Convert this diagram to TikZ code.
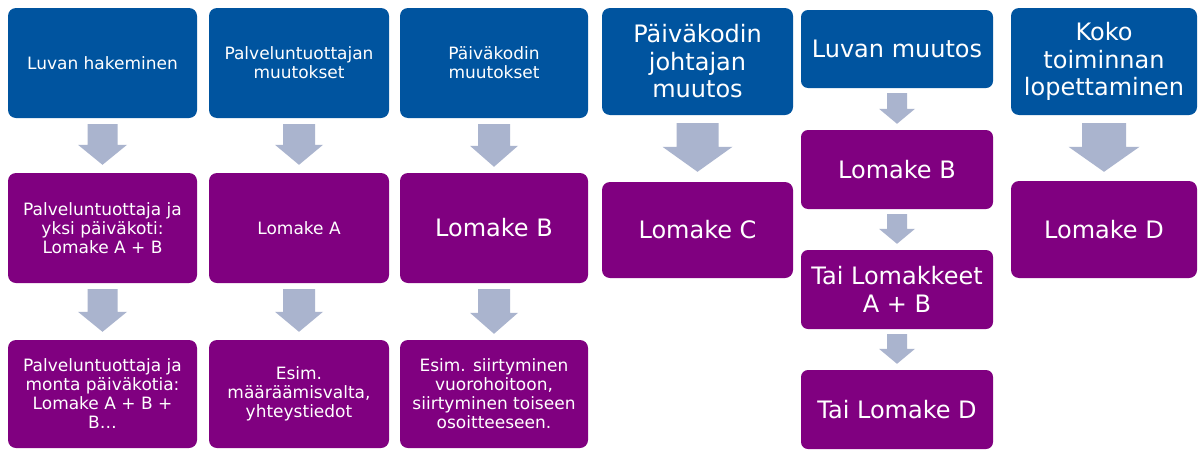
\documentclass[tikz,border=0pt]{standalone}
\usepackage{fontspec}
\setmainfont{DejaVu Sans}
\usetikzlibrary{calc}
\definecolor{boxblue}{RGB}{0,84,159}
\definecolor{boxpurple}{RGB}{128,0,128}
\definecolor{arrowgray}{RGB}{170,180,206}
\tikzset{
  basebox/.style={rectangle, rounded corners=8pt, inner sep=2pt, align=center, text=white},
  bluebox/.style={basebox, fill=boxblue},
  purplebox/.style={basebox, fill=boxpurple},
  small/.style={font=\fontsize{17}{19}\selectfont},
  big/.style={font=\fontsize{24}{27.5}\selectfont},
  arrowfill/.style={fill=arrowgray},
}
\newcommand{\barrow}[7]{%
  \fill[arrowfill] let \p1=($(#1.south)+(0,#6)$), \p2=($(#2.north)+(0,-#7)$) in
  (\x1-#3pt,\y1) -- (\x1+#3pt,\y1) -- (\x1+#3pt,\y2+#5pt) -- (\x1+#4pt,\y2+#5pt)
  -- (\x1,\y2) -- (\x1-#4pt,\y2+#5pt) -- (\x1-#3pt,\y2+#5pt) -- cycle;}
\begin{document}
\begin{tikzpicture}[x=1pt,y=-1pt]
\fill[white] (0,0) rectangle (1198,450);
\useasboundingbox (0,0) rectangle (1198,450);
% column 1
\node[bluebox,small,minimum width=189,minimum height=110] (t1) at (102.5,63) {Luvan hakeminen};
\node[purplebox,small,minimum width=189,minimum height=110] (m1) at (102.5,228) {Palveluntuottaja ja\\yksi päiväkoti:\\Lomake A + B};
\node[purplebox,small,minimum width=189,minimum height=108] (b1) at (102.5,394) {Palveluntuottaja ja\\monta päiväkotia:\\Lomake A + B +\\B…};
% column 2
\node[bluebox,small,minimum width=180,minimum height=110] (t2) at (299,63) {Palveluntuottajan\\muutokset};
\node[purplebox,small,minimum width=180,minimum height=110] (m2) at (299,228) {Lomake A};
\node[purplebox,small,minimum width=180,minimum height=108] (b2) at (299,394) {Esim.\\määräämisvalta,\\yhteystiedot};
% column 3
\node[bluebox,small,minimum width=188,minimum height=110] (t3) at (494,63) {Päiväkodin\\muutokset};
\node[purplebox,big,minimum width=188,minimum height=110] (m3) at (494,228) {Lomake B};
\node[purplebox,small,minimum width=188,minimum height=108] (b3) at (494,394) {Esim. siirtyminen\\vuorohoitoon,\\siirtyminen toiseen\\osoitteeseen.};
% column 4
\node[bluebox,big,minimum width=191,minimum height=107] (t4) at (697.5,61.5) {Päiväkodin\\johtajan\\muutos};
\node[purplebox,big,minimum width=191,minimum height=96] (m4) at (697.5,230) {Lomake C};
% column 5
\node[bluebox,big,rounded corners=7pt,minimum width=192,minimum height=78] (t5) at (897,49) {Luvan muutos};
\node[purplebox,big,rounded corners=7pt,minimum width=192,minimum height=79] (m5a) at (897,169.5) {Lomake B};
\node[purplebox,big,rounded corners=7pt,minimum width=192,minimum height=79] (m5b) at (897,289.5) {Tai Lomakkeet\\A + B};
\node[purplebox,big,rounded corners=7pt,minimum width=192,minimum height=79] (m5c) at (897,409.5) {Tai Lomake D};
% column 6
\node[bluebox,big,minimum width=186,minimum height=107] (t6) at (1104,61.5) {Koko\\toiminnan\\lopettaminen};
\node[purplebox,big,minimum width=186,minimum height=97] (m6) at (1104,229.5) {Lomake D};
% arrows
\barrow{t1}{m1}{15}{24.5}{20}{6}{8}
\barrow{m1}{b1}{15}{24.5}{20}{6}{8}
\barrow{t2}{m2}{16}{24}{20}{6}{8}
\barrow{m2}{b2}{16}{24}{20}{6}{8}
\barrow{t3}{m3}{16}{24}{21}{6}{6}
\barrow{m3}{b3}{16}{24}{21}{6}{6}
\barrow{t4}{m4}{21}{35}{25}{8}{10}
\barrow{t5}{m5a}{10}{18}{15}{5}{6}
\barrow{m5a}{m5b}{10}{18}{15}{5}{6}
\barrow{m5b}{m5c}{10}{18}{15}{5}{6}
\barrow{t6}{m6}{22}{35.5}{25}{8}{9}
\end{tikzpicture}
\end{document}
